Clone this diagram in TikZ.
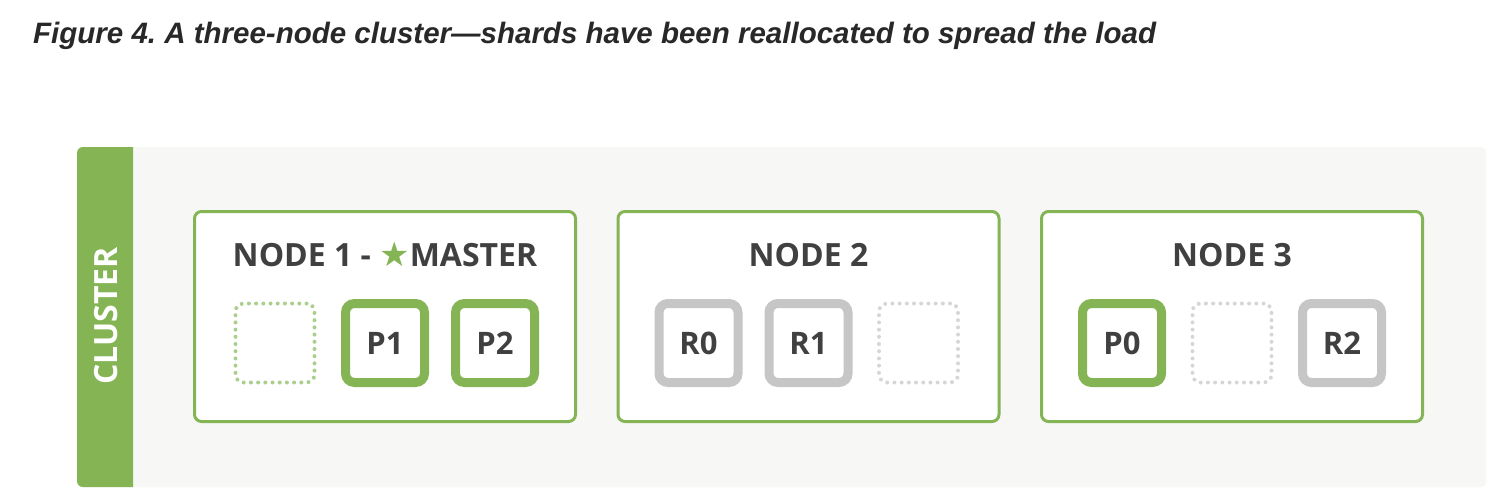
\documentclass[tikz,border=0pt]{standalone}
\usepackage{fontspec}
\setmainfont{Open Sans}
\newfontfamily\captionfont{Liberation Sans}
\newfontfamily\starfont{DejaVu Sans}
\frenchspacing

\definecolor{esgreen}{RGB}{133,180,84}
\definecolor{esgray}{RGB}{198,198,198}
\definecolor{estext}{RGB}{64,64,64}
\definecolor{captiontext}{RGB}{40,40,40}
\definecolor{esback}{RGB}{247,247,245}
\definecolor{freegreen}{RGB}{170,206,140}
\definecolor{freegray}{RGB}{214,214,214}

\begin{document}
\begin{tikzpicture}[x=1pt,y=-1pt,
  server/.style={draw=esgreen, line width=3pt, fill=white, rounded corners=7pt,
    minimum width=381pt, minimum height=210pt},
  shard/.style={line width=9pt, fill=white, rounded corners=9pt, minimum size=79pt,
    inner sep=0pt, text=estext, font=\fontsize{31}{33}\selectfont\bfseries},
  primary/.style={shard, draw=esgreen},
  replica/.style={shard, draw=esgray},
  free/.style={line width=4pt, line cap=round, dash pattern=on 0pt off 7.2pt,
    rounded corners=8pt, minimum size=79pt, inner sep=0pt},
  heading/.style={anchor=base, text=estext, font=\fontsize{32}{34}\selectfont\bfseries}]

\useasboundingbox (0,0) rectangle (1512,498);
\fill [white] (0,0) rectangle (1512,498);

\node [anchor=base west, text=captiontext, inner sep=0pt,
  font=\fontsize{29.5}{31}\selectfont\captionfont\bfseries\itshape] (caption) at (33,43)
  {Figure 4. A three-node cluster—shards have been reallocated to spread the load};

\fill [esback, rounded corners=5pt] (77,147) rectangle (1486,487);
\begin{scope}
\clip (77,147) rectangle (133,487);
\fill [esgreen, rounded corners=6pt] (77,147) rectangle (150,487);
\end{scope}
\node [rotate=90, text=white, font=\fontsize{32}{34}\selectfont\bfseries] (cluster) at (106,316) {CLUSTER};

\node [server] (node1) at (385,316.5) {};
\node [server] (node2) at (808.5,316.5) {};
\node [server] (node3) at (1232,316.5) {};

\node [heading] (head1) at (385,266) {NODE 1 - {\starfont\fontsize{34}{34}\selectfont\color{esgreen}★}MASTER};
\node [heading] (head2) at (808.5,266) {NODE 2};
\node [heading] (head3) at (1232,266) {NODE 3};

\node [free, draw=freegreen] (free1) at (275,343) {};
\node [primary] (p1) at (385,343) {P1};
\node [primary] (p2) at (495,343) {P2};

\node [replica] (r0) at (698.5,343) {R0};
\node [replica] (r1) at (808.5,343) {R1};
\node [free, draw=freegray] (free2) at (918.5,343) {};

\node [primary] (p0) at (1122,343) {P0};
\node [free, draw=freegray] (free3) at (1232,343) {};
\node [replica] (r2) at (1342,343) {R2};
\end{tikzpicture}
\end{document}
